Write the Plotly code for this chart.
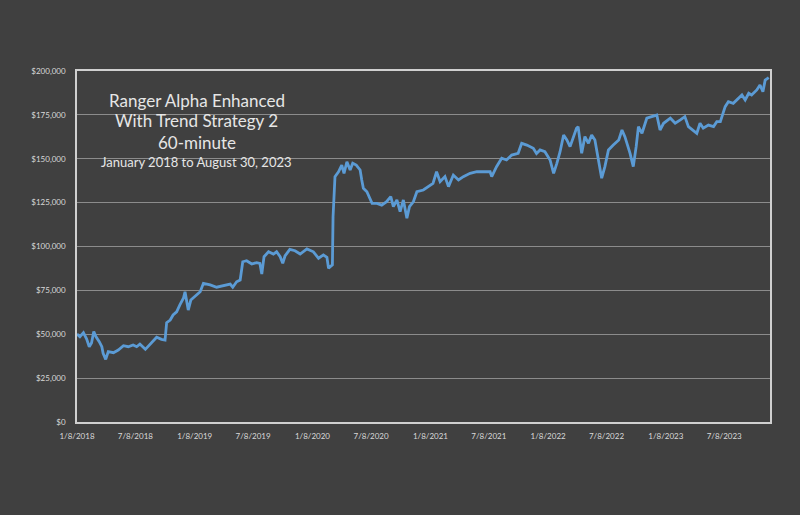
import plotly.graph_objects as go

dates = [
    "2018-01-08", "2018-01-17", "2018-01-28", "2018-02-07", "2018-02-15", "2018-02-22",
    "2018-03-01", "2018-03-08", "2018-03-18", "2018-03-26", "2018-03-30", "2018-04-07",
    "2018-04-15", "2018-05-01", "2018-05-16", "2018-06-01", "2018-06-16", "2018-07-01",
    "2018-07-12", "2018-07-22", "2018-08-08", "2018-08-22", "2018-09-12", "2018-09-27",
    "2018-10-08", "2018-10-13", "2018-10-24", "2018-11-02", "2018-11-13", "2018-11-23",
    "2018-12-04", "2018-12-09", "2018-12-14", "2018-12-19", "2018-12-27", "2019-01-09",
    "2019-01-25", "2019-02-04", "2019-02-25", "2019-03-17", "2019-04-07", "2019-04-28",
    "2019-05-06", "2019-05-18", "2019-05-29", "2019-06-06", "2019-06-18", "2019-07-04",
    "2019-07-19", "2019-07-29", "2019-08-04", "2019-08-11", "2019-08-25", "2019-09-09",
    "2019-09-19", "2019-09-30", "2019-10-08", "2019-10-15", "2019-10-30", "2019-11-15",
    "2019-12-01", "2019-12-22", "2020-01-11", "2020-01-27", "2020-02-11", "2020-02-22",
    "2020-02-27", "2020-03-05", "2020-03-10", "2020-03-12", "2020-03-15", "2020-03-18",
    "2020-03-29", "2020-04-08", "2020-04-15", "2020-04-24", "2020-05-04", "2020-05-12",
    "2020-05-23", "2020-06-04", "2020-06-09", "2020-06-14", "2020-06-25", "2020-07-11",
    "2020-07-26", "2020-08-10", "2020-08-25", "2020-09-07", "2020-09-15", "2020-09-26",
    "2020-10-06", "2020-10-16", "2020-10-27", "2020-11-04", "2020-11-16", "2020-11-27",
    "2020-12-17", "2021-01-01", "2021-01-16", "2021-01-27", "2021-02-07", "2021-02-22",
    "2021-03-05", "2021-03-20", "2021-04-05", "2021-04-20", "2021-05-11", "2021-06-01",
    "2021-06-21", "2021-07-12", "2021-07-17", "2021-08-01", "2021-08-17", "2021-09-01",
    "2021-09-17", "2021-10-07", "2021-10-18", "2021-11-03", "2021-11-23", "2021-12-03",
    "2021-12-14", "2021-12-29", "2022-01-14", "2022-01-25", "2022-02-04", "2022-02-14",
    "2022-02-25", "2022-03-07", "2022-03-17", "2022-03-27", "2022-04-06", "2022-04-11",
    "2022-04-22", "2022-05-02", "2022-05-13", "2022-05-23", "2022-06-02", "2022-06-13",
    "2022-06-23", "2022-07-03", "2022-07-14", "2022-07-29", "2022-08-15", "2022-08-25",
    "2022-09-03", "2022-09-19", "2022-09-29", "2022-10-08", "2022-10-15", "2022-10-26",
    "2022-11-10", "2022-11-25", "2022-12-11", "2022-12-21", "2023-01-01", "2023-01-22",
    "2023-02-06", "2023-02-22", "2023-03-08", "2023-03-19", "2023-04-03", "2023-04-14",
    "2023-04-24", "2023-05-04", "2023-05-20", "2023-06-05", "2023-06-15", "2023-06-26",
    "2023-07-11", "2023-07-21", "2023-08-05", "2023-08-21", "2023-09-01", "2023-09-11",
    "2023-09-22", "2023-10-01", "2023-10-17", "2023-10-27", "2023-11-05", "2023-11-12",
    "2023-11-23",
]

equity = [
    50100, 48600, 50900, 47300, 42900, 45000,
    51500, 48600, 45800, 42900, 39100, 35700,
    40100, 39500, 41000, 43500, 42900, 43900,
    42900, 44400, 41400, 44400, 48300, 47100,
    46700, 56600, 58100, 61000, 62800, 66700,
    70500, 74200, 69500, 63800, 69500, 71400,
    74200, 79000, 78100, 76800, 77500, 78600,
    76800, 79900, 80900, 91300, 91900, 90000,
    90800, 90400, 84300, 94200, 97000, 95700,
    97000, 94200, 90400, 94600, 98400, 97600,
    95700, 98600, 97000, 93300, 95200, 93800,
    87600, 88500, 89500, 117000, 128000, 139800,
    142600, 146400, 141700, 148300, 143600, 147400,
    146400, 143600, 137900, 133200, 131200, 124600,
    124600, 123600, 125500, 128400, 122700, 126500,
    119800, 126500, 116100, 122700, 125500, 131200,
    132200, 134100, 136000, 142600, 136900, 139800,
    134100, 140700, 137900, 139800, 141700, 142600,
    142600, 142600, 139800, 145500, 150300, 149300,
    152100, 153100, 158800, 157800, 156000, 153000,
    155000, 154000, 149300, 141700, 147400, 154000,
    163500, 160700, 156900, 162600, 167400, 168300,
    153100, 162600, 158800, 163500, 160700, 149300,
    138900, 145500, 155000, 157800, 160700, 166400,
    162600, 153100, 145500, 156900, 168300, 164500,
    173100, 174000, 174900, 166400, 170200, 173100,
    170200, 172100, 174000, 168300, 166400, 164500,
    170200, 167400, 169200, 168300, 171100, 171100,
    179700, 182500, 181600, 184400, 186300, 183500,
    187300, 186300, 189200, 192000, 188200, 194800,
    196200,
]

tick_dates = ["2018-01-08", "2018-07-08", "2019-01-08", "2019-07-08", "2020-01-08",
              "2020-07-08", "2021-01-08", "2021-07-08", "2022-01-08", "2022-07-08",
              "2023-01-08", "2023-07-08"]
tick_labels = ["1/8/2018", "7/8/2018", "1/8/2019", "7/8/2019", "1/8/2020", "7/8/2020",
               "1/8/2021", "7/8/2021", "1/8/2022", "7/8/2022", "1/8/2023", "7/8/2023"]

title_lines = ["Ranger Alpha Enhanced", "With Trend Strategy 2", "60-minute",
               "January 2018 to August 30, 2023"]

BG = "#404040"
TXT = "#d9d9d9"

fig = go.Figure()
fig.add_trace(go.Scatter(x=dates, y=equity, mode="lines",
                         line=dict(color="#5b9bd5", width=2.8), hoverinfo="x+y",
                         showlegend=False))

fig.update_layout(
    width=800, height=515,
    paper_bgcolor=BG, plot_bgcolor=BG,
    margin=dict(l=77, r=30, t=71, b=93),
    font=dict(family="Lato, Open Sans, sans-serif", color=TXT, size=8),
    xaxis=dict(
        type="date", range=["2018-01-08", "2023-11-27"],
        tickvals=tick_dates, ticktext=tick_labels,
        showgrid=False, zeroline=False,
        showline=True, linecolor="#d0d0d0", linewidth=1.5, mirror=True,
        ticks="outside", ticklen=6, tickcolor=BG,
        tickfont=dict(size=8, color=TXT),
    ),
    yaxis=dict(
        range=[0, 200000], dtick=25000, tickformat="$,.0f",
        showgrid=True, gridcolor="#8c8c8c", gridwidth=1, zeroline=False,
        showline=True, linecolor="#d0d0d0", linewidth=1.5, mirror=True,
        ticks="outside", ticklen=8, tickcolor=BG,
        tickfont=dict(size=8, color=TXT),
    ),
)

title_pos = [0.917, 0.858, 0.795, 0.741]
title_sizes = [17, 17, 17, 13]
for txt, yp, fs in zip(title_lines, title_pos, title_sizes):
    fig.add_annotation(text=txt, xref="paper", yref="paper", x=0.173, y=yp,
                       xanchor="center", yanchor="middle", showarrow=False,
                       font=dict(family="Lato, Open Sans, sans-serif", size=fs, color="#e6e6e6"))

fig.write_html("out.html", config={"displayModeBar": False},
               post_script="document.body.style.margin='0';document.body.style.background='#404040';")
